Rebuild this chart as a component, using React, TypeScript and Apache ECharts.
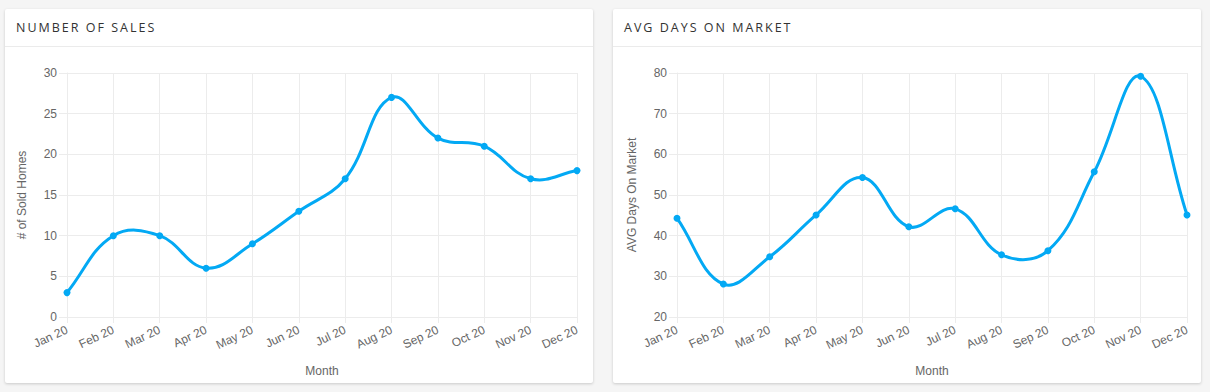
import React, { useEffect, useRef } from "react";
import * as echarts from "echarts";

const months = ["Jan 20", "Feb 20", "Mar 20", "Apr 20", "May 20", "Jun 20", "Jul 20", "Aug 20", "Sep 20", "Oct 20", "Nov 20", "Dec 20"];
const soldHomes = [3, 10, 10, 6, 9, 13, 17, 27, 22, 21, 17, 18];
const avgDays = [44.3, 28.1, 34.8, 45.1, 54.3, 42.2, 46.6, 35.3, 36.3, 55.7, 79.2, 45.1];

const LINE = "#03A9F4";
const GRID = "#ececec";
const TXT = "#666";
const FONT = "'Liberation Sans', Arial, Helvetica, sans-serif";
const TENSION = 0.4;

function splinePath(data: number[], api: any): string {
  const pts = data.map((v, i) => api.coord([i, v]) as number[]);
  const n = pts.length;
  const cps: { px: number; py: number; nx: number; ny: number }[] = [];
  for (let i = 0; i < n; i++) {
    const cur = pts[i];
    const prev = i > 0 ? pts[i - 1] : cur;
    const next = i < n - 1 ? pts[i + 1] : cur;
    const d01 = Math.hypot(cur[0] - prev[0], cur[1] - prev[1]);
    const d12 = Math.hypot(next[0] - cur[0], next[1] - cur[1]);
    const tot = d01 + d12 || 1;
    const fa = (TENSION * d01) / tot;
    const fb = (TENSION * d12) / tot;
    cps.push({
      px: cur[0] - fa * (next[0] - prev[0]),
      py: cur[1] - fa * (next[1] - prev[1]),
      nx: cur[0] + fb * (next[0] - prev[0]),
      ny: cur[1] + fb * (next[1] - prev[1]),
    });
  }
  let d = `M${pts[0][0]},${pts[0][1]}`;
  for (let i = 1; i < n; i++) {
    d += ` C${cps[i - 1].nx},${cps[i - 1].ny} ${cps[i].px},${cps[i].py} ${pts[i][0]},${pts[i][1]}`;
  }
  return d;
}

function buildOption(data: number[], yName: string, min: number, max: number, interval: number, left: number) {
  return {
    animation: false,
    grid: { left, top: 25, width: 510, height: 244, containLabel: false },
    xAxis: {
      type: "category",
      data: months,
      boundaryGap: false,
      name: "Month",
      nameLocation: "middle",
      nameGap: 48,
      nameTextStyle: { color: TXT, fontSize: 12, fontFamily: FONT },
      axisLine: { show: true, lineStyle: { color: GRID, width: 1 } },
      axisTick: { show: true, length: 6, lineStyle: { color: GRID } },
      axisLabel: { rotate: 25, color: TXT, fontSize: 12, fontFamily: FONT, margin: 12, interval: 0 },
      splitLine: { show: true, lineStyle: { color: GRID, width: 1 } },
    },
    yAxis: {
      type: "value",
      min,
      max,
      interval,
      name: yName,
      nameLocation: "middle",
      nameGap: 39,
      nameRotate: 90,
      nameTextStyle: { color: TXT, fontSize: 12, fontFamily: FONT },
      axisLine: { show: true, lineStyle: { color: GRID, width: 1 } },
      axisTick: { show: true, length: 8, lineStyle: { color: GRID } },
      axisLabel: { color: TXT, fontSize: 12, fontFamily: FONT, margin: 10 },
      splitLine: { show: true, lineStyle: { color: GRID, width: 1 } },
    },
    series: [
      {
        type: "custom",
        data: data.map((v, i) => [i, v]),
        clip: false,
        silent: true,
        z: 2,
        renderItem: (params: any, api: any) => {
          if (params.dataIndex !== 0) return null;
          return {
            type: "path",
            shape: { pathData: splinePath(data, api) },
            style: { fill: "none", stroke: LINE, lineWidth: 3 },
          };
        },
      },
      {
        type: "line",
        data,
        symbol: "circle",
        symbolSize: 7,
        z: 3,
        lineStyle: { opacity: 0, width: 0 },
        itemStyle: { color: LINE },
      },
    ],
  };
}

function Chart({ option }: { option: any }) {
  const ref = useRef<HTMLDivElement>(null);
  useEffect(() => {
    if (!ref.current) return;
    const chart = echarts.init(ref.current, undefined, { renderer: "svg" });
    chart.setOption(option);
    return () => chart.dispose();
  }, [option]);
  return <div ref={ref} style={{ width: 588, height: 335 }} />;
}

function Card({ left, title, option }: { left: number; title: string; option: any }) {
  return (
    <div
      style={{
        position: "absolute",
        left,
        top: 9,
        width: 588,
        height: 374,
        background: "#fff",
        borderRadius: 2,
        boxShadow: "0 1px 3px rgba(0,0,0,0.18)",
        overflow: "hidden",
      }}
    >
      <div
        style={{
          height: 38,
          borderBottom: "1px solid #ebebeb",
          boxSizing: "border-box",
          display: "flex",
          alignItems: "center",
          paddingLeft: 11,
          fontFamily: "'Open Sans', Lato, sans-serif",
          fontSize: 12.5,
          letterSpacing: 2,
          color: "#333",
          textTransform: "uppercase",
        }}
      >
        {title}
      </div>
      <div style={{ position: "absolute", left: 0, top: 39 }}>
        <Chart option={option} />
      </div>
    </div>
  );
}

const optA = buildOption(soldHomes, "# of Sold Homes", 0, 30, 5, 62);
const optB = buildOption(avgDays, "AVG Days On Market", 20, 80, 10, 64);

export default function App() {
  return (
    <div style={{ position: "fixed", left: 0, top: 0, width: 1210, height: 392, background: "#f5f5f5", overflow: "hidden" }}>
      <Card left={5} title="Number of Sales" option={optA} />
      <Card left={613} title="AVG Days on Market" option={optB} />
    </div>
  );
}
